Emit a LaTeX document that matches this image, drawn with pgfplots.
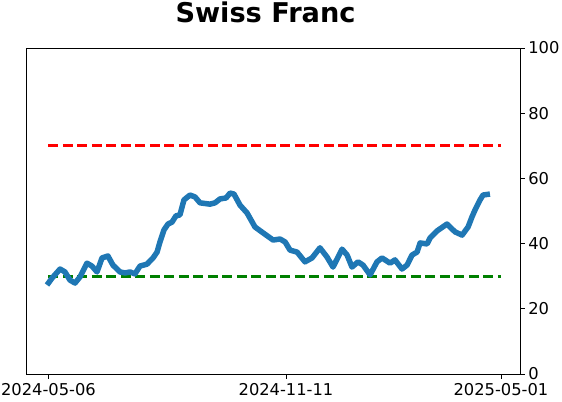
\documentclass[border=0pt]{standalone}
\usepackage{pgfplots}
\pgfplotsset{compat=1.18}
\usepackage{fontspec}
\setmainfont{DejaVu Sans}
\definecolor{tabblue}{HTML}{1F77B4}
\definecolor{mgreen}{HTML}{008000}
\begin{document}
\begin{tikzpicture}
\useasboundingbox (-26bp,-28bp) rectangle (536bp,374bp);
\begin{axis}[
  at={(0,0)}, anchor=south west,
  scale only axis, width=494bp, height=326bp,
  xmin=-17.9, xmax=375.2, ymin=0, ymax=100,
  xtick={0,189,360},
  xticklabels={2024-05-06,2024-11-11,2025-05-01},
  ytick={0,20,40,60,80,100},
  xtick pos=bottom, ytick pos=right, yticklabel pos=right,
  tick align=outside, major tick length=4.8bp,
  every tick/.style={black, line width=0.8bp},
  axis line style={line width=0.8bp},
  tick label style={font=\fontsize{16.3bp}{19bp}\selectfont},
  /pgf/number format/assume math mode=true,
  xticklabel style={yshift=-1bp},
  yticklabel style={xshift=0bp},
  title={\bfseries Swiss Franc},
  title style={font=\fontsize{27.2bp}{30bp}\selectfont, at={(0.5,1)}, anchor=base, yshift=20bp, xshift=-7.5bp},
  clip=false,
]
\addplot[red, line width=2.7bp, dash pattern=on 10bp off 4.5bp] coordinates {(0,70) (360,70)};
\addplot[mgreen, line width=2.7bp, dash pattern=on 10bp off 4.5bp] coordinates {(0,30) (360,30)};
\addplot[tabblue, line width=5.5bp, line join=round] coordinates {
(-1.2,27.3) (2.8,29.4) (9.2,32.2) (13.1,31.3) (17.1,28.8) (21.1,27.9) (25.1,29.8)
(30.6,34.0) (34.6,33.1) (38.6,31.3) (42.6,35.6) (47.3,36.2) (51.3,33.4) (56.9,31.3)
(60.9,31.0) (64.9,31.3) (68.8,30.7) (72.8,33.1) (78.4,33.7) (83.2,35.6) (86.4,37.4)
(88.7,40.5) (91.9,44.2) (95.1,46.0) (98.3,46.6) (101.4,48.5) (104.6,48.8) (107.8,53.4)
(112.6,54.9) (116.6,54.3) (120.6,52.5) (128.5,52.1) (132.5,52.5) (136.5,53.7) (141.3,54.0)
(144.5,55.5) (147.6,55.2) (152.4,51.8) (158.0,49.4) (164.3,45.1) (170.7,43.3) (178.7,41.1)
(184.3,41.4) (188.3,40.5) (192.2,38.0) (197.8,37.4) (204.1,34.4) (209.7,35.6) (216.0,38.7)
(221.6,35.9) (226.4,32.8) (233.6,38.3) (237.6,36.5) (241.5,32.8) (246.3,34.4) (250.3,33.4)
(255.9,30.4) (261.4,34.4) (265.4,35.6) (271.8,34.0) (275.7,35.0) (281.3,32.2) (285.3,33.4)
(289.3,36.5) (293.3,37.4) (295.7,40.2) (301.3,39.9) (303.6,41.7) (309.2,43.9) (317.1,46.0)
(323.5,43.6) (329.1,42.6) (333.9,45.1) (337.0,48.2) (339.4,50.3) (343.4,53.4) (345.8,54.9)
(351.3,55.2)
};
\end{axis}
\end{tikzpicture}
\end{document}
